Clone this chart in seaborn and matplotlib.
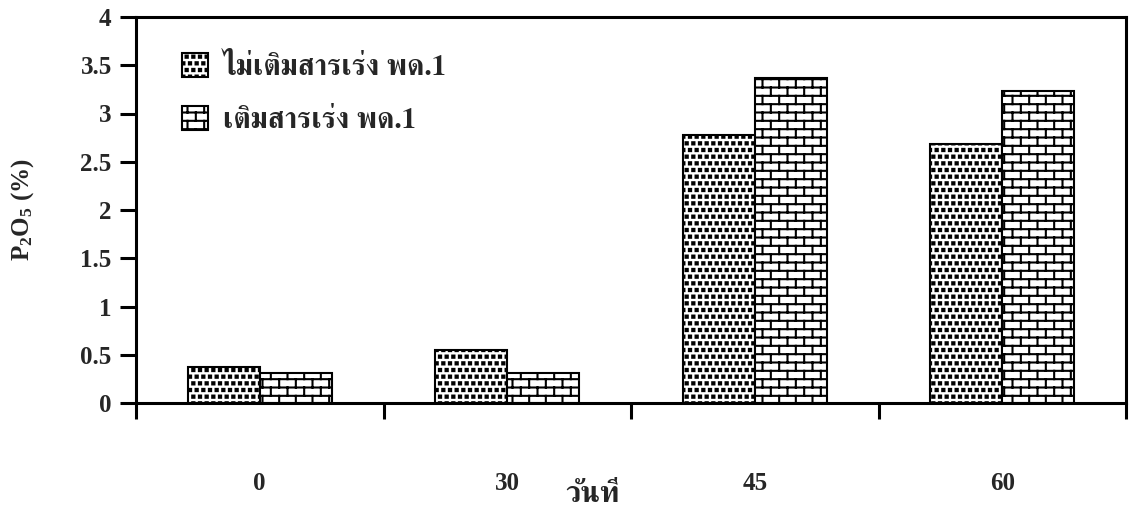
import numpy as np
import pandas as pd
import matplotlib
matplotlib.use("Agg")
import matplotlib.pyplot as plt
from matplotlib import hatch as mhatch
from matplotlib.path import Path
import seaborn as sns

# ---- data -------------------------------------------------------------
days = ["0", "30", "45", "60"]
series_names = ["ไม่เติมสารเร่ง พด.1", "เติมสารเร่ง พด.1"]
no_activator = [0.37, 0.55, 2.78, 2.68]
with_activator = [0.31, 0.31, 3.37, 3.23]
y_ticks = [0, 0.5, 1, 1.5, 2, 2.5, 3, 3.5, 4]
x_title = "วันที่"
y_title = "P$_2$O$_5$ (%)"


# ---- custom hatch patterns ---------------------------------------------
class SquareDots(mhatch.HatchPatternBase):
    """'.' : staggered grid of small filled squares."""
    def __init__(self, hatch, density):
        self.n = 15 if hatch.count('.') else 0
        self.num_vertices = self.n * (self.n + 1) * 5

    def set_vertices_and_codes(self, vertices, codes):
        n = self.n
        s = 0.011
        k = 0
        for i in range(n):
            y = (i + 0.5) / n
            off = 0.5 if i % 2 else 0.0
            for j in range(n + 1):
                x = (j + off) / n
                vertices[k:k + 5] = [(x - s, y - s), (x + s, y - s),
                                     (x + s, y + s), (x - s, y + s), (x - s, y - s)]
                codes[k:k + 5] = [Path.MOVETO, Path.LINETO, Path.LINETO,
                                  Path.LINETO, Path.CLOSEPOLY]
                k += 5


class Bricks(mhatch.HatchPatternBase):
    """'O' : running-bond brick pattern."""
    def __init__(self, hatch, density):
        self.rows = 12 if hatch.count('O') else 0
        self.cols = 6
        self.num_vertices = ((self.rows * 2 + (self.rows + 1) * self.cols * 2)
                             if self.rows else 0)

    def set_vertices_and_codes(self, vertices, codes):
        r, c = self.rows, self.cols
        k = 0
        for i in range(r):
            y = (i + 0.5) / r
            vertices[k:k + 2] = [(0.0, y), (1.0, y)]
            codes[k:k + 2] = [Path.MOVETO, Path.LINETO]
            k += 2
        for i in range(-1, r):
            y0 = (i + 0.5) / r
            y1 = (i + 1.5) / r
            off = 0.5 if i % 2 else 0.0
            for j in range(c):
                x = (j + off + 0.25) / c
                vertices[k:k + 2] = [(x, y0), (x, y1)]
                codes[k:k + 2] = [Path.MOVETO, Path.LINETO]
                k += 2


mhatch._hatch_types = [t for t in mhatch._hatch_types
                       if t not in (mhatch.SmallFilledCircles, mhatch.LargeCircles)]
mhatch._hatch_types += [SquareDots, Bricks]

# ---- style --------------------------------------------------------------
sns.set_theme(style="white")
thai_family = ["FreeSerif", "Taviraj", "DejaVu Sans"]
plt.rcParams["font.family"] = ["Liberation Serif", "FreeSerif", "DejaVu Sans"]
plt.rcParams["font.weight"] = "bold"
plt.rcParams["mathtext.default"] = "regular"
plt.rcParams["hatch.linewidth"] = 1.5

df = pd.DataFrame({
    "day": days * 2,
    "value": no_activator + with_activator,
    "group": [series_names[0]] * len(days) + [series_names[1]] * len(days),
})

fig = plt.figure(figsize=(11.3, 5.16), dpi=100)
ax = fig.add_axes([136 / 1130, 1 - 403 / 516, 990 / 1130, 386 / 516])

sns.barplot(data=df, x="day", y="value", hue="group", order=days,
            hue_order=series_names, palette=["white", "white"],
            width=0.58, edgecolor="black", linewidth=1.5, ax=ax, legend=False)

for cont, h in zip(ax.containers, ["....", "O"]):
    for bar in cont:
        bar.set_hatch(h)

ax.set_xlim(-0.5, len(days) - 0.5)
ax.set_ylim(0, 4)
ax.set_yticks(y_ticks)
ax.set_yticklabels([f"{v:g}" for v in y_ticks], fontsize=18, fontweight="bold")
ax.set_xticks(np.arange(len(days) + 1) - 0.5)
ax.set_xticklabels([])
ax.set_xticks(np.arange(len(days)), minor=True)
ax.set_xticklabels(days, minor=True, fontsize=18, fontweight="bold")
ax.tick_params(axis="both", which="major", direction="out", length=11.5,
               width=2.2, color="black", left=True, bottom=True)
ax.tick_params(axis="y", pad=6)
ax.tick_params(axis="x", which="minor", length=0, pad=50)

for sp in ax.spines.values():
    sp.set_visible(True)
    sp.set_color("black")
    sp.set_linewidth(2.2)

ax.set_xlabel(x_title, fontsize=21, fontweight="bold", family=thai_family)
ax.xaxis.set_label_coords(0.4616, -0.205)
ax.set_ylabel(y_title, fontsize=18, fontweight="bold", labelpad=32)

ax.legend(ax.containers, series_names, loc="upper left",
          bbox_to_anchor=(0.02, 0.975), frameon=False,
          handlelength=0.9, handleheight=0.9, handletextpad=0.5,
          labelspacing=0.85,
          prop={"family": thai_family, "weight": "bold", "size": 21})

fig.savefig("out.png", dpi=100)
